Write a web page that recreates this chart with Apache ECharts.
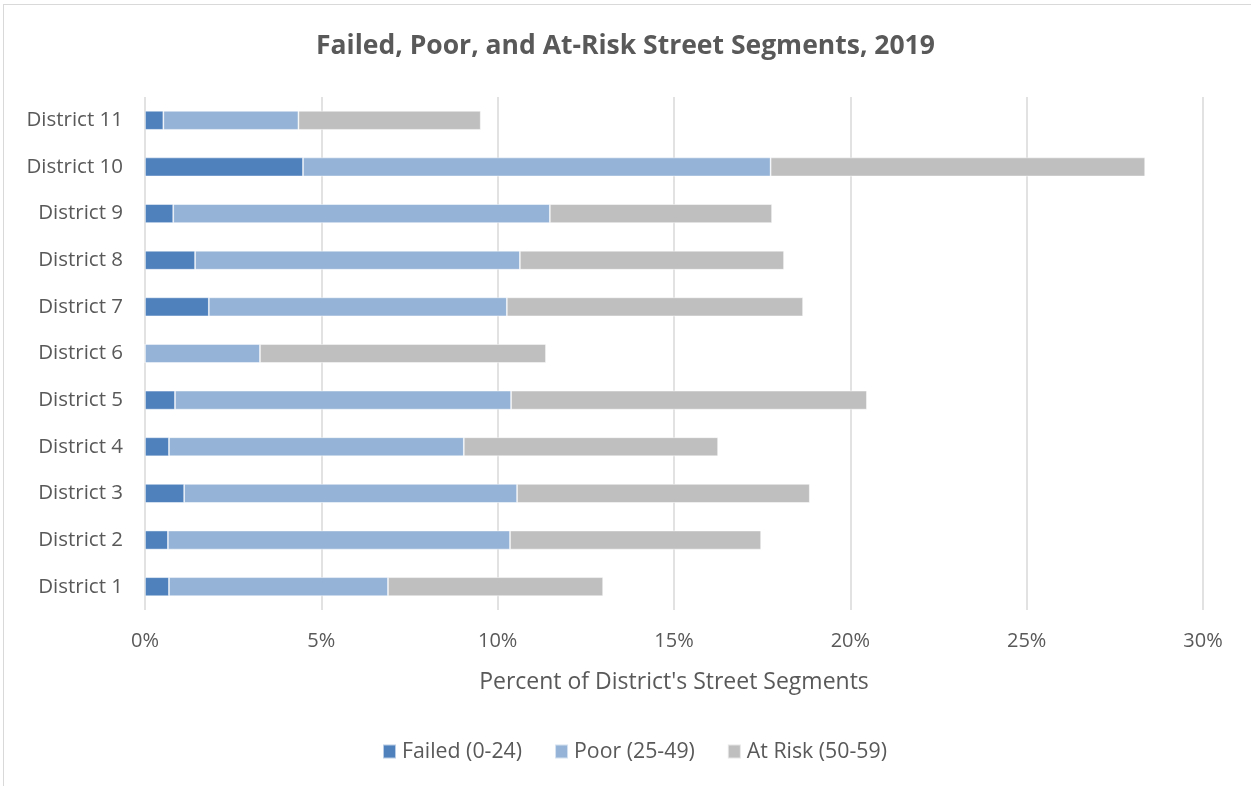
<!DOCTYPE html>
<html>
<head>
<meta charset="utf-8">
<script src="https://cdn.jsdelivr.net/npm/echarts@6/dist/echarts.min.js"></script>
<style>
  html, body { margin: 0; padding: 0; background: #fff; }
  #frame { position: absolute; left: 3px; top: 4px; width: 1260px; height: 800px;
           border-left: 1px solid #d9d9d9; border-top: 1px solid #d9d9d9; }
  #chart { position: absolute; left: 0; top: 0; width: 1251px; height: 786px; }
</style>
</head>
<body>
<div id="frame"></div>
<div id="chart"></div>
<script>
// districts bottom to top
const districts = ['District 1', 'District 2', 'District 3', 'District 4', 'District 5', 'District 6',
                   'District 7', 'District 8', 'District 9', 'District 10', 'District 11']
// percent of street segments (stacked pieces)
const failed = [0.68, 0.65, 1.11, 0.68, 0.85, 0, 1.81, 1.42, 0.80, 4.48, 0.52]
const poor = [6.21, 9.70, 9.44, 8.36, 9.53, 3.26, 8.45, 9.21, 10.68, 13.26, 3.83]
const atRisk = [6.10, 7.12, 8.30, 7.21, 10.09, 8.11, 8.40, 7.49, 6.30, 10.62, 5.17]
const xTicks = [0, 5, 10, 15, 20, 25, 30]

const font = 'Open Sans'
let myChart = echarts.init(document.getElementById('chart'))

function barSeries(name, data, color) {
    return {
        name: name,
        type: 'bar',
        stack: 'total',
        barWidth: 19,
        data: data,
        itemStyle: { color: color, borderColor: 'rgba(255,255,255,0.6)', borderWidth: 0.8 }
    }
}

let option = {
    animation: false,
    title: {
        text: 'Failed, Poor, and At-Risk Street Segments, 2019',
        left: 'center',
        top: 28,
        textStyle: { fontFamily: font, fontSize: 26.5, fontWeight: 'bold', color: '#595959' }
    },
    legend: {
        bottom: 19,
        left: 377,
        itemWidth: 13,
        itemHeight: 14,
        itemGap: 32,
        icon: 'rect',
        textStyle: { fontFamily: font, fontSize: 21.3, color: '#595959', padding: [0, 0, 0, 1] }
    },
    grid: { left: 145, right: 48, top: 97, bottom: 176 },
    xAxis: {
        type: 'value',
        min: 0,
        max: 30,
        interval: 5,
        name: "Percent of District's Street Segments",
        nameLocation: 'middle',
        nameGap: 61,
        nameTextStyle: { fontFamily: font, fontSize: 23, color: '#595959' },
        axisLine: { show: false },
        axisTick: { show: false },
        axisLabel: {
            fontFamily: font, fontSize: 20, color: '#595959', margin: 21,
            formatter: v => xTicks.includes(v) ? v + '%' : ''
        },
        splitLine: { lineStyle: { color: '#d9d9d9', width: 1.5 } }
    },
    yAxis: {
        type: 'category',
        data: districts,
        axisLine: { show: false },
        axisTick: { show: false },
        axisLabel: { fontFamily: font, fontSize: 20.5, color: '#595959', margin: 22 }
    },
    series: [
        barSeries('Failed (0-24)', failed, '#4f81bd'),
        barSeries('Poor (25-49)', poor, '#95b3d7'),
        barSeries('At Risk (50-59)', atRisk, '#bfbfbf')
    ]
}

option && myChart.setOption(option)
</script>
</body>
</html>
